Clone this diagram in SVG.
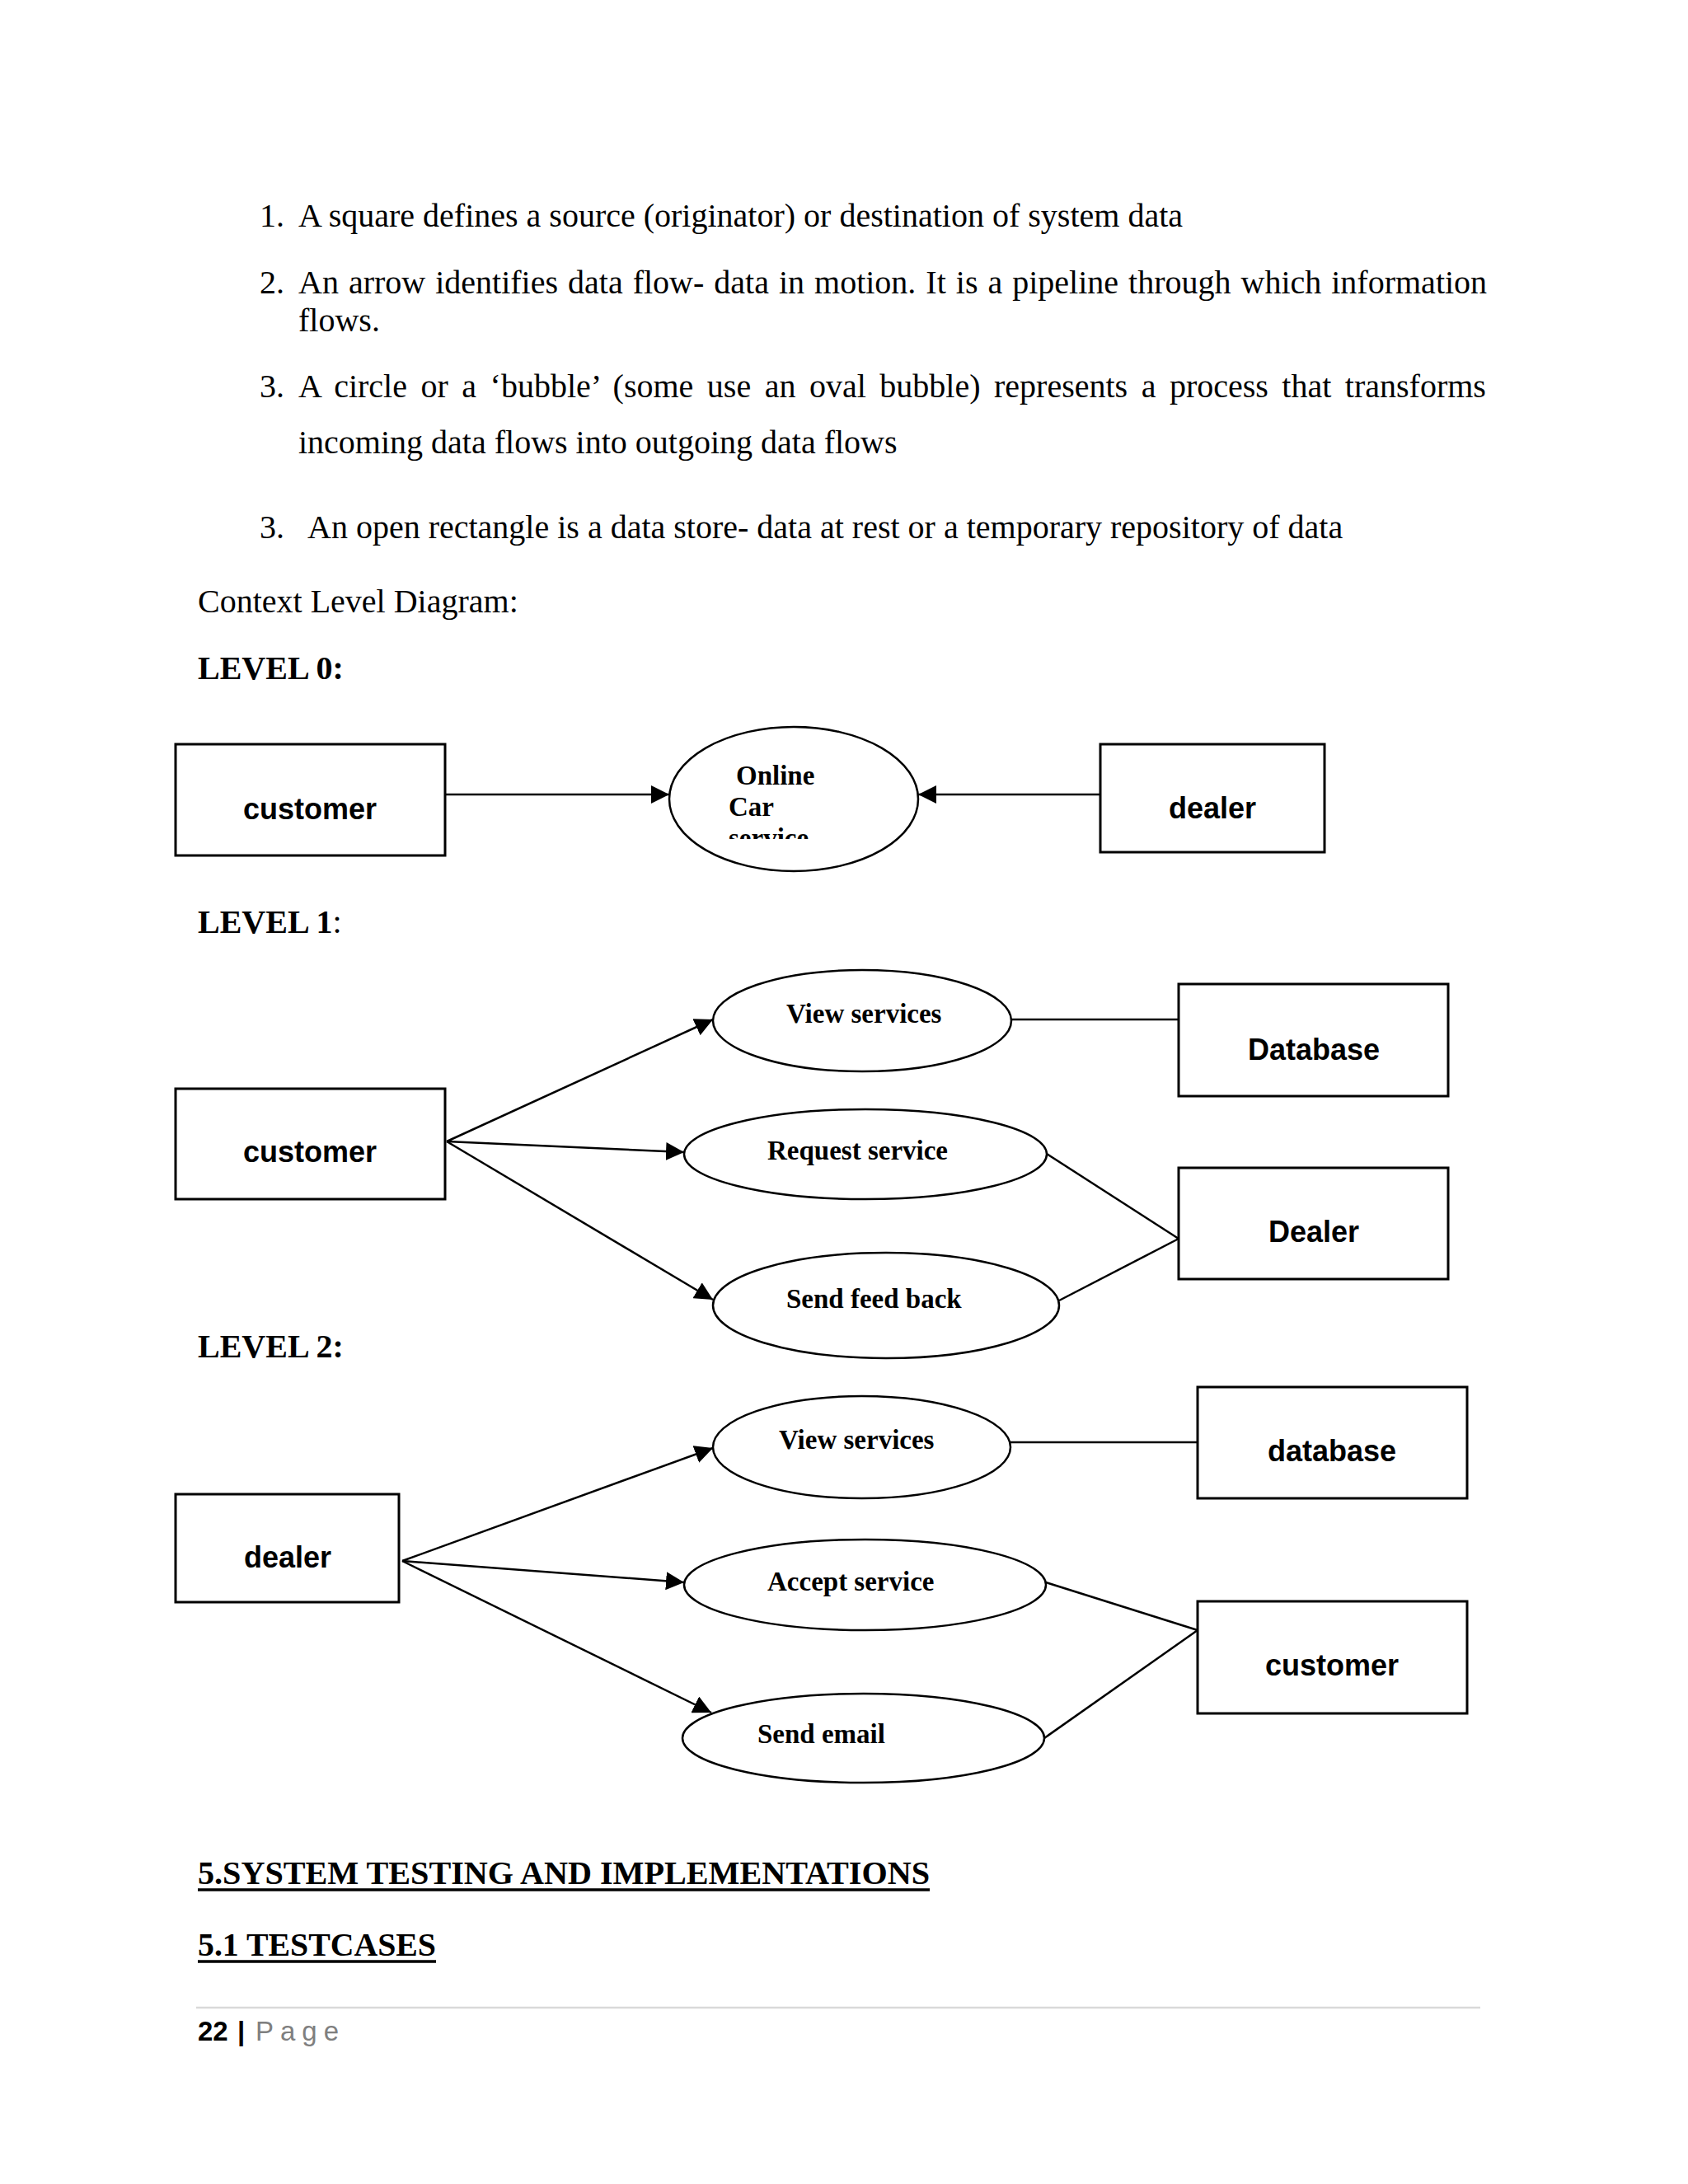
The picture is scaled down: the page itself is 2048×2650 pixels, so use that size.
<svg xmlns="http://www.w3.org/2000/svg" width="2048" height="2650" viewBox="0 0 2048 2650">
<style>
.body{font-family:"Liberation Serif","Times New Roman",serif;font-size:40px;fill:#000}
.bold{font-weight:bold}
.box{fill:#fff;stroke:#000;stroke-width:3}
.ell{fill:#fff;stroke:#000;stroke-width:2.5}
.bl{font-family:"Liberation Sans",Arial,sans-serif;font-weight:bold;font-size:36px;fill:#000;text-anchor:middle}
.el{font-family:"Liberation Serif","Times New Roman",serif;font-weight:bold;font-size:33px;fill:#000}
.conn line{stroke:#000;stroke-width:2.5;fill:none}
.ul{stroke:#000;stroke-width:3.5}
.foot{font-family:"Liberation Sans",Arial,sans-serif;font-size:33px}
</style>
<defs>
<marker id="arr" markerUnits="userSpaceOnUse" markerWidth="22" markerHeight="22" viewBox="0 0 20 20" refX="20" refY="10" orient="auto">
<path d="M0,0 L20,10 L0,20 z" fill="#000"/>
</marker>
<clipPath id="clipOnline"><rect x="800" y="880" width="320" height="138"/></clipPath>
</defs>
<rect width="2048" height="2650" fill="#fff"/>

<g id="intro-text" class="body">
<text x="315" y="275">1.</text>
<text x="362" y="275">A square defines a source (originator) or destination of system data</text>
<text x="315" y="356">2.</text>
<text x="362" y="356" word-spacing="2">An arrow identifies data flow- data in motion. It is a pipeline through which information</text>
<text x="362" y="402">flows.</text>
<text x="315" y="482">3.</text>
<text x="362" y="482" word-spacing="6.5">A circle or a ‘bubble’ (some use an oval bubble) represents a process that transforms</text>
<text x="362" y="550">incoming data flows into outgoing data flows</text>
<text x="315" y="653">3.</text>
<text x="373" y="653">An open rectangle is a data store- data at rest or a temporary repository of data</text>
<text x="240" y="743">Context Level Diagram:</text>
<text x="240" y="824" class="bold">LEVEL 0:</text>
<text x="240" y="1132"><tspan class="bold">LEVEL 1</tspan>:</text>
<text x="240" y="1647" class="bold">LEVEL 2:</text>
</g>

<g id="connectors" class="conn">
<line x1="540" y1="964" x2="812" y2="964" marker-end="url(#arr)"/>
<line x1="1335" y1="964" x2="1114" y2="964" marker-end="url(#arr)"/>
<line x1="542" y1="1385" x2="865" y2="1237" marker-end="url(#arr)"/>
<line x1="542" y1="1385" x2="830" y2="1398" marker-end="url(#arr)"/>
<line x1="542" y1="1385" x2="865" y2="1577" marker-end="url(#arr)"/>
<line x1="1227" y1="1237" x2="1430" y2="1237"/>
<line x1="1270" y1="1400" x2="1430" y2="1503"/>
<line x1="1285" y1="1578" x2="1430" y2="1503"/>
<line x1="488" y1="1894" x2="865" y2="1757" marker-end="url(#arr)"/>
<line x1="488" y1="1894" x2="830" y2="1920" marker-end="url(#arr)"/>
<line x1="488" y1="1894" x2="863" y2="2078" marker-end="url(#arr)"/>
<line x1="1226" y1="1750" x2="1453" y2="1750"/>
<line x1="1269" y1="1920" x2="1453" y2="1978"/>
<line x1="1267" y1="2109" x2="1453" y2="1978"/>
</g>

<g id="l0-customer"><rect class="box" x="213" y="903" width="327" height="135"/><text class="bl" x="376" y="994">customer</text></g>
<g id="l0-online-car-service"><ellipse class="ell" cx="963" cy="969.5" rx="151" ry="87.5"/>
<g clip-path="url(#clipOnline)" class="el"><text x="893" y="952">Online</text><text x="884" y="990">Car</text><text x="884" y="1028">service</text></g></g>
<g id="l0-dealer"><rect class="box" x="1335" y="903" width="272" height="131"/><text class="bl" x="1471" y="993">dealer</text></g>

<g id="l1-customer"><rect class="box" x="213" y="1321" width="327" height="134"/><text class="bl" x="376" y="1410">customer</text></g>
<g id="l1-view-services"><ellipse class="ell" cx="1046" cy="1238.5" rx="181" ry="61.5"/><text class="el" x="954" y="1241">View services</text></g>
<g id="l1-request-service"><ellipse class="ell" cx="1050" cy="1400.5" rx="220" ry="54.5"/><text class="el" x="931" y="1407">Request service</text></g>
<g id="l1-send-feed-back"><ellipse class="ell" cx="1075" cy="1584" rx="210" ry="64"/><text class="el" x="954" y="1587">Send feed back</text></g>
<g id="l1-database"><rect class="box" x="1430" y="1194" width="327" height="136"/><text class="bl" x="1594" y="1286">Database</text></g>
<g id="l1-dealer"><rect class="box" x="1430" y="1417" width="327" height="135"/><text class="bl" x="1594" y="1507">Dealer</text></g>

<g id="l2-dealer"><rect class="box" x="213" y="1813" width="271" height="131"/><text class="bl" x="349" y="1902">dealer</text></g>
<g id="l2-view-services"><ellipse class="ell" cx="1045.5" cy="1756" rx="180.5" ry="62"/><text class="el" x="945" y="1758">View services</text></g>
<g id="l2-accept-service"><ellipse class="ell" cx="1049.5" cy="1923" rx="219.5" ry="55"/><text class="el" x="931" y="1930">Accept service</text></g>
<g id="l2-send-email"><ellipse class="ell" cx="1047.5" cy="2109" rx="219.5" ry="54"/><text class="el" x="919" y="2115">Send email</text></g>
<g id="l2-database"><rect class="box" x="1453" y="1683" width="327" height="135"/><text class="bl" x="1616" y="1773">database</text></g>
<g id="l2-customer"><rect class="box" x="1453" y="1943" width="327" height="136"/><text class="bl" x="1616" y="2033">customer</text></g>

<g id="headings" class="body bold">
<text x="240" y="2286" textLength="888" lengthAdjust="spacingAndGlyphs">5.SYSTEM TESTING AND IMPLEMENTATIONS</text>
<line class="ul" x1="240" y1="2293" x2="1128" y2="2293"/>
<text x="240" y="2373" textLength="289" lengthAdjust="spacingAndGlyphs">5.1 TESTCASES</text>
<line class="ul" x1="240" y1="2380" x2="529" y2="2380"/>
</g>

<g id="footer">
<line x1="238" y1="2436" x2="1796" y2="2436" stroke="#d9d9d9" stroke-width="2.5"/>
<text class="foot" x="240" y="2476" font-weight="bold" fill="#000">22</text>
<text class="foot" x="288" y="2476" font-weight="bold" fill="#000">|</text>
<text class="foot" x="310" y="2476" fill="#7f7f7f" letter-spacing="8">Page</text>
</g>
</svg>
